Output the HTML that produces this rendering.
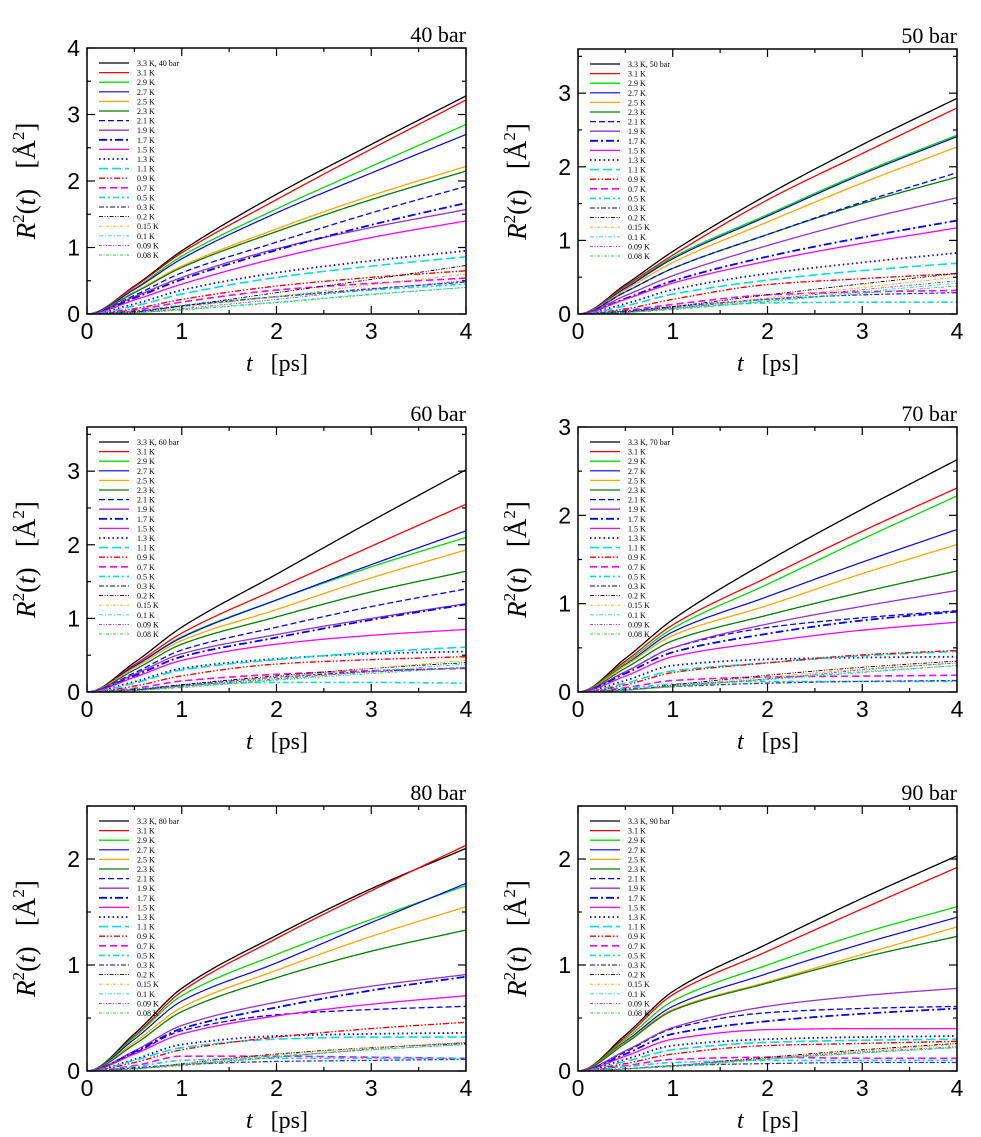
<!DOCTYPE html>
<html><head><meta charset="utf-8">
<style>
html,body{margin:0;padding:0;background:#fff;}
svg{display:block;}
</style></head>
<body>
<svg id="chart" width="981" height="1137" viewBox="0 0 981 1137" xmlns="http://www.w3.org/2000/svg"></svg>
<script>
// ---- data ----
const timePoints = [0, 0.5, 1, 2, 3, 4];
const xTicks = [0, 1, 2, 3, 4];
const seriesLabels = ["3.3 K","3.1 K","2.9 K","2.7 K","2.5 K","2.3 K","2.1 K","1.9 K","1.7 K","1.5 K","1.3 K","1.1 K","0.9 K","0.7 K","0.5 K","0.3 K","0.2 K","0.15 K","0.1 K","0.09 K","0.08 K"];
const panelTitles = ["40 bar","50 bar","60 bar","70 bar","80 bar","90 bar"];
const panelYMax = [4, 3.6, 3.6, 3, 2.5, 2.5];
// values at t = 0.5, 1, 2, 3, 4 ps
const bar40 = [
[0.42,0.95,1.80,2.55,3.28],[0.41,0.92,1.72,2.48,3.22],[0.38,0.87,1.58,2.22,2.85],[0.37,0.83,1.52,2.12,2.70],
[0.33,0.72,1.28,1.78,2.22],[0.32,0.70,1.24,1.72,2.15],[0.28,0.62,1.08,1.52,1.92],[0.26,0.55,0.98,1.30,1.57],
[0.24,0.52,0.96,1.34,1.67],[0.21,0.45,0.84,1.15,1.40],[0.15,0.36,0.62,0.80,0.95],[0.12,0.30,0.55,0.72,0.86],
[0.08,0.22,0.42,0.55,0.65],[0.06,0.18,0.36,0.46,0.54],[0.04,0.13,0.26,0.36,0.45],[0.04,0.12,0.26,0.38,0.48],
[0.03,0.12,0.32,0.52,0.73],[0.02,0.10,0.26,0.44,0.60],[0.02,0.07,0.18,0.30,0.40],[0.02,0.08,0.22,0.37,0.50],
[0.02,0.06,0.17,0.29,0.40]];
const bar50 = [
[0.40,0.85,1.62,2.30,2.93],[0.38,0.80,1.55,2.18,2.80],[0.36,0.77,1.35,1.92,2.43],[0.35,0.75,1.33,1.90,2.41],
[0.33,0.70,1.25,1.78,2.27],[0.30,0.62,1.08,1.50,1.86],[0.30,0.62,1.08,1.52,1.92],[0.25,0.52,0.93,1.28,1.58],
[0.21,0.45,0.78,1.04,1.27],[0.20,0.42,0.72,0.96,1.17],[0.14,0.33,0.55,0.70,0.83],[0.11,0.27,0.46,0.59,0.69],
[0.07,0.20,0.40,0.48,0.55],[0.05,0.13,0.26,0.30,0.32],[0.04,0.08,0.15,0.16,0.16],[0.04,0.10,0.20,0.26,0.29],
[0.03,0.10,0.26,0.41,0.55],[0.02,0.08,0.22,0.36,0.50],[0.02,0.07,0.18,0.30,0.42],[0.02,0.08,0.20,0.33,0.45],
[0.02,0.06,0.17,0.28,0.38]];
const bar60 = [
[0.40,0.88,1.60,2.32,3.02],[0.37,0.80,1.40,1.98,2.55],[0.35,0.75,1.25,1.70,2.10],[0.35,0.74,1.25,1.73,2.19],
[0.33,0.70,1.12,1.55,1.93],[0.30,0.65,1.02,1.36,1.64],[0.26,0.57,0.88,1.16,1.40],[0.24,0.52,0.78,1.00,1.20],
[0.22,0.48,0.74,0.98,1.19],[0.20,0.43,0.65,0.77,0.85],[0.14,0.32,0.45,0.52,0.55],[0.12,0.30,0.44,0.54,0.61],
[0.08,0.22,0.38,0.44,0.48],[0.05,0.15,0.24,0.29,0.32],[0.04,0.09,0.13,0.13,0.12],[0.03,0.09,0.20,0.28,0.33],
[0.03,0.10,0.22,0.32,0.40],[0.02,0.08,0.20,0.32,0.43],[0.02,0.07,0.17,0.28,0.38],[0.02,0.08,0.18,0.27,0.33],
[0.02,0.06,0.16,0.25,0.33]];
const bar70 = [
[0.38,0.82,1.48,2.07,2.63],[0.35,0.76,1.30,1.82,2.31],[0.33,0.72,1.22,1.73,2.22],[0.31,0.68,1.08,1.47,1.84],
[0.30,0.64,0.98,1.34,1.67],[0.27,0.58,0.87,1.13,1.37],[0.23,0.50,0.73,0.84,0.92],[0.23,0.50,0.77,0.97,1.15],
[0.21,0.45,0.66,0.81,0.91],[0.18,0.40,0.57,0.70,0.79],[0.13,0.30,0.37,0.39,0.40],[0.10,0.24,0.33,0.41,0.46],
[0.08,0.22,0.33,0.42,0.47],[0.05,0.13,0.17,0.18,0.19],[0.04,0.09,0.12,0.12,0.12],[0.03,0.06,0.10,0.12,0.13],
[0.02,0.08,0.19,0.28,0.35],[0.02,0.07,0.17,0.26,0.33],[0.02,0.06,0.15,0.23,0.30],[0.02,0.07,0.15,0.25,0.33],
[0.02,0.06,0.14,0.22,0.30]];
const bar80 = [
[0.35,0.78,1.28,1.72,2.10],[0.33,0.75,1.25,1.70,2.13],[0.32,0.71,1.10,1.43,1.75],[0.30,0.66,1.02,1.40,1.77],
[0.27,0.60,0.95,1.27,1.55],[0.25,0.56,0.88,1.13,1.33],[0.17,0.38,0.53,0.58,0.61],[0.19,0.43,0.65,0.80,0.91],
[0.18,0.40,0.60,0.76,0.89],[0.16,0.35,0.52,0.63,0.71],[0.11,0.25,0.33,0.35,0.36],[0.10,0.22,0.30,0.32,0.32],
[0.08,0.20,0.32,0.40,0.46],[0.05,0.14,0.14,0.13,0.12],[0.04,0.10,0.12,0.12,0.12],[0.03,0.06,0.09,0.10,0.11],
[0.02,0.07,0.16,0.22,0.26],[0.02,0.07,0.15,0.22,0.27],[0.02,0.06,0.14,0.20,0.25],[0.02,0.06,0.13,0.21,0.27],
[0.02,0.05,0.13,0.20,0.25]];
const bar90 = [
[0.34,0.75,1.20,1.63,2.03],[0.32,0.72,1.13,1.53,1.92],[0.30,0.66,1.00,1.30,1.55],[0.28,0.61,0.92,1.20,1.45],
[0.27,0.58,0.84,1.10,1.36],[0.26,0.57,0.83,1.07,1.27],[0.18,0.40,0.55,0.59,0.61],[0.19,0.41,0.61,0.71,0.78],
[0.16,0.35,0.47,0.54,0.59],[0.14,0.30,0.39,0.40,0.40],[0.11,0.24,0.30,0.32,0.33],[0.09,0.20,0.27,0.29,0.30],
[0.07,0.16,0.24,0.26,0.28],[0.05,0.11,0.13,0.12,0.12],[0.04,0.08,0.10,0.10,0.10],[0.02,0.05,0.07,0.08,0.08],
[0.02,0.05,0.13,0.20,0.26],[0.02,0.05,0.12,0.19,0.25],[0.02,0.05,0.11,0.17,0.22],[0.02,0.05,0.12,0.18,0.23],
[0.02,0.04,0.11,0.17,0.22]];
const panelData = [bar40, bar50, bar60, bar70, bar80, bar90];

// ---- styles / layout ----
const colors = ["#000","#f00","#00dd00","#0000ff","#ffa500","#008000","#0000ff","#9932cc","#0000ff","#ff00ff","#0000ff","#00e0e0","#f00","#ff00ff","#00e0e0","#3333cc","#000","#ffa500","#00e0e0","#9932cc","#33cc33"];
const dashes = ["","","","","","","6,3","","8,3,2,3","","1.5,3","9,4","6,2,1.5,2,1.5,2","7,4","6,3,2,3","5,2,2,2","4,1.5,1,1.5,1,1.5","3,1.5,1,1.5","4,2,1,2","3,1.5,1,1.5,1,1.5","3,1.5,1,1.5"];
const widths = [1.3,1.3,1.3,1.2,1.3,1.3,1.3,1.3,1.8,1.3,1.8,1.6,1.4,1.6,1.6,1.3,0.9,0.9,0.9,0.9,0.9];
const boxes = [[87,48,379,266],[578,49,379,265],[87,427,379,265],[578,427,379,265],[87,806,379,265],[578,806,379,265]];

const NS = "http://www.w3.org/2000/svg";
const svg = document.getElementById('chart');
function mk(tag, attrs, parent){
  const e = document.createElementNS(NS, tag);
  for (const k in attrs) e.setAttribute(k, attrs[k]);
  (parent||svg).appendChild(e);
  return e;
}
function monotone(xs, ys){
  const n = xs.length, d = [], m = [];
  for (let i=0;i<n-1;i++) d.push((ys[i+1]-ys[i])/(xs[i+1]-xs[i]));
  m[0] = 0;
  for (let i=1;i<n-1;i++){ m[i] = (d[i-1]*d[i] <= 0) ? 0 : 2/(1/d[i-1]+1/d[i]); }
  m[n-1] = d[n-2];
  return function(x){
    let i = 0; while (i < n-2 && x > xs[i+1]) i++;
    const h = xs[i+1]-xs[i], t = (x-xs[i])/h;
    const h00=2*t*t*t-3*t*t+1, h10=t*t*t-2*t*t+t, h01=-2*t*t*t+3*t*t, h11=t*t*t-t*t;
    return h00*ys[i]+h10*h*m[i]+h01*ys[i+1]+h11*h*m[i+1];
  };
}

panelData.forEach((data, p) => {
  const [L, T, W, H] = boxes[p];
  const ymax = panelYMax[p];
  const xs = v => L + v/4*W;
  const ys = v => T + H - v/ymax*H;
  const g = mk('g', {});
  
  
  const clipId = 'clip' + p;
  const cp = mk('clipPath', {id: clipId}, g);
  mk('rect', {x:L, y:T, width:W, height:H}, cp);

  const sg = mk('g', {'clip-path': 'url(#'+clipId+')'}, g);
  data.forEach((vals, s) => {
    const f = monotone(timePoints, [0].concat(vals));
    let d = '';
    for (let k=0;k<=160;k++){
      const t = k/40;
      d += (k? 'L':'M') + xs(t).toFixed(2) + ',' + ys(f(t)).toFixed(2);
    }
    const path = mk('path', {d:d, fill:'none', stroke:colors[s], 'stroke-width':widths[s], 'stroke-dasharray':dashes[s]||'none'}, sg);
    
    
  });

  const fr = mk('rect', {x:L, y:T, width:W, height:H, fill:'none', stroke:'#000', 'stroke-width':1.5}, g);
  
  

  for (let v=0; v<=4.001; v+=0.5){
    const major = Math.abs(v-Math.round(v))<1e-6;
    const len = major?8:4, x = xs(v);
    mk('line',{x1:x,y1:T+H,x2:x,y2:T+H-len,stroke:'#000','stroke-width':1.2},g);
    mk('line',{x1:x,y1:T,x2:x,y2:T+len,stroke:'#000','stroke-width':1.2},g);
  }
  xTicks.forEach(v => {
    const tl = mk('text',{x:xs(v), y:T+H+25, 'text-anchor':'middle','font-family':'Liberation Sans, sans-serif','font-size':23},g);
    tl.textContent = v;
    
    
  });
  for (let v=0; v<=ymax+1e-6; v+=0.5){
    const major = Math.abs(v-Math.round(v))<1e-6;
    const len = major?8:4, y = ys(v);
    mk('line',{x1:L,y1:y,x2:L+len,y2:y,stroke:'#000','stroke-width':1.2},g);
    mk('line',{x1:L+W,y1:y,x2:L+W-len,y2:y,stroke:'#000','stroke-width':1.2},g);
    if (major){
      const tl = mk('text',{x:L-7, y:y+8, 'text-anchor':'end','font-family':'Liberation Sans, sans-serif','font-size':23},g);
      tl.textContent = v;
      
      
    }
  }
  const tt = mk('text',{x:L+W, y:T-6, 'text-anchor':'end','font-family':'Liberation Serif, serif','font-size':22},g);
  tt.textContent = panelTitles[p];
  
  
  const xt = mk('text',{x:L+190, y:T+H+57, 'text-anchor':'middle','font-family':'Liberation Serif, serif','font-size':24},g);
  xt.innerHTML = '<tspan font-style="italic">t</tspan>\u2002 [ps]';
  
  
  const yc = T + H/2;
  const yt = mk('text',{x:0, y:0, transform:'translate('+(L-52)+','+yc+') rotate(-90)', 'text-anchor':'middle','font-family':'Liberation Serif, serif','font-size':27},g);
  yt.innerHTML = '<tspan font-style="italic">R</tspan><tspan dy="-11" font-size="17">2</tspan><tspan dy="11">(</tspan><tspan font-style="italic">t</tspan>)\u2002 [Å<tspan dy="-11" font-size="17">2</tspan><tspan dy="11">]</tspan>';
  
  

  const lg = mk('g', {}, g);
  
  
  seriesLabels.forEach((lab, s) => {
    const y = T + 15 + s*9.6;
    const ln = mk('line',{x1:L+12,y1:y,x2:L+42,y2:y,stroke:colors[s],'stroke-width':widths[s],'stroke-dasharray':dashes[s]||'none'},lg);
    
    
    const tx = mk('text',{x:L+50, y:y+3,'font-family':'Liberation Serif, serif','font-size':8},lg);
    tx.textContent = s===0 ? lab + ', ' + panelTitles[p] : lab;
    
    
  });
});
</script>
</body></html>
